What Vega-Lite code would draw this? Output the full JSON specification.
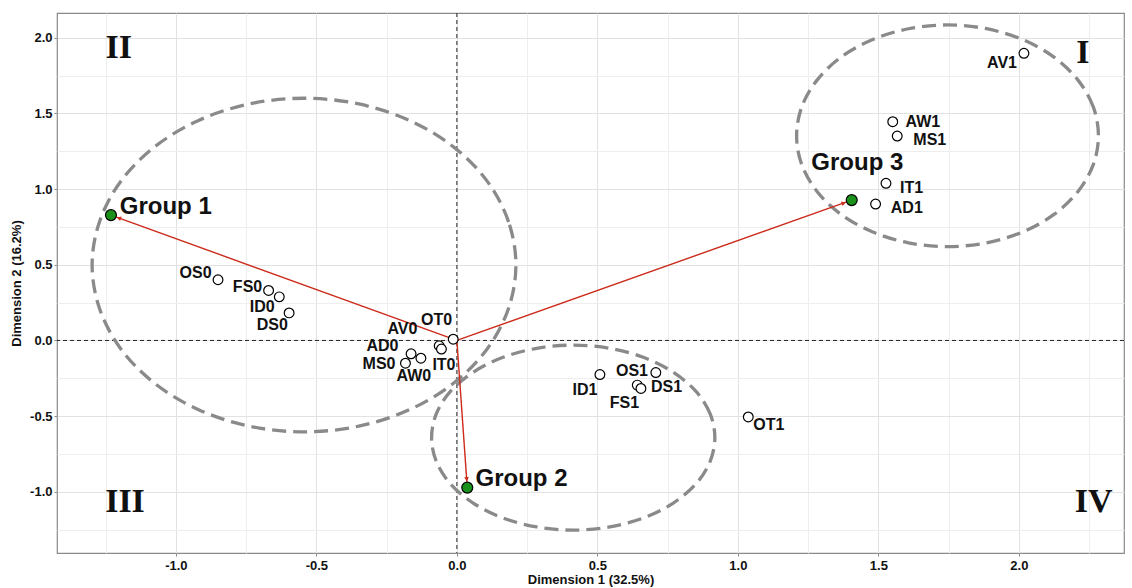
{
  "$schema": "https://vega.github.io/schema/vega-lite/v6.json",
  "width": 1067,
  "height": 540,
  "autosize": {"type": "none"},
  "padding": {"left": 57, "top": 13, "right": 8, "bottom": 35},
  "background": "white",
  "config": {
    "view": {"stroke": "#8a8a8a", "strokeWidth": 1.2},
    "text": {"font": "Liberation Sans", "fontWeight": "bold"}
  },
  "datasets": {
    "points": [
      {"name": "OS0", "x": -0.850, "y": 0.401},
      {"name": "FS0", "x": -0.670, "y": 0.330},
      {"name": "ID0", "x": -0.632, "y": 0.288},
      {"name": "DS0", "x": -0.597, "y": 0.182},
      {"name": "OT0", "x": -0.013, "y": 0.008},
      {"name": "AV0", "x": -0.063, "y": -0.035},
      {"name": "IT0", "x": -0.055, "y": -0.057},
      {"name": "AD0", "x": -0.163, "y": -0.088},
      {"name": "MS0", "x": -0.183, "y": -0.150},
      {"name": "AW0", "x": -0.128, "y": -0.117},
      {"name": "ID1", "x": 0.509, "y": -0.225},
      {"name": "OS1", "x": 0.708, "y": -0.212},
      {"name": "FS1", "x": 0.642, "y": -0.295},
      {"name": "DS1", "x": 0.655, "y": -0.317},
      {"name": "OT1", "x": 1.037, "y": -0.505},
      {"name": "AV1", "x": 2.018, "y": 1.897},
      {"name": "AW1", "x": 1.551, "y": 1.445},
      {"name": "MS1", "x": 1.567, "y": 1.350},
      {"name": "IT1", "x": 1.527, "y": 1.038},
      {"name": "AD1", "x": 1.490, "y": 0.901}
    ],
    "labels": [
      {"name": "OS0", "x": -0.930, "y": 0.443},
      {"name": "FS0", "x": -0.745, "y": 0.354},
      {"name": "ID0", "x": -0.693, "y": 0.222},
      {"name": "DS0", "x": -0.657, "y": 0.101},
      {"name": "OT0", "x": -0.072, "y": 0.134},
      {"name": "AV0", "x": -0.194, "y": 0.075},
      {"name": "AD0", "x": -0.265, "y": -0.035},
      {"name": "MS0", "x": -0.277, "y": -0.155},
      {"name": "AW0", "x": -0.153, "y": -0.232},
      {"name": "IT0", "x": -0.046, "y": -0.163},
      {"name": "ID1", "x": 0.456, "y": -0.324},
      {"name": "OS1", "x": 0.623, "y": -0.203},
      {"name": "DS1", "x": 0.746, "y": -0.306},
      {"name": "FS1", "x": 0.596, "y": -0.410},
      {"name": "OT1", "x": 1.110, "y": -0.560},
      {"name": "AV1", "x": 1.940, "y": 1.831},
      {"name": "AW1", "x": 1.658, "y": 1.445},
      {"name": "MS1", "x": 1.683, "y": 1.324},
      {"name": "IT1", "x": 1.618, "y": 1.005},
      {"name": "AD1", "x": 1.601, "y": 0.872}
    ],
    "groups": [
      {"name": "Group 1", "x": -1.231, "y": 0.828},
      {"name": "Group 2", "x": 0.037, "y": -0.972},
      {"name": "Group 3", "x": 1.405, "y": 0.927}
    ],
    "grouplabels": [
      {"name": "Group 1", "x": -1.036, "y": 0.883},
      {"name": "Group 2", "x": 0.230, "y": -0.912},
      {"name": "Group 3", "x": 1.425, "y": 1.170}
    ],
    "quadrants": [
      {"name": "II", "x": -1.203, "y": 1.930},
      {"name": "III", "x": -1.181, "y": -1.067},
      {"name": "I", "x": 2.228, "y": 1.897},
      {"name": "IV", "x": 2.266, "y": -1.067}
    ],
    "ellipses": [
      {"e": 1, "i": 0, "x": 0.210, "y": 0.498},
      {"e": 1, "i": 1, "x": 0.184, "y": 0.783},
      {"e": 1, "i": 2, "x": 0.109, "y": 1.049},
      {"e": 1, "i": 3, "x": -0.011, "y": 1.277},
      {"e": 1, "i": 4, "x": -0.167, "y": 1.452},
      {"e": 1, "i": 5, "x": -0.349, "y": 1.562},
      {"e": 1, "i": 6, "x": -0.544, "y": 1.600},
      {"e": 1, "i": 7, "x": -0.739, "y": 1.562},
      {"e": 1, "i": 8, "x": -0.921, "y": 1.452},
      {"e": 1, "i": 9, "x": -1.077, "y": 1.277},
      {"e": 1, "i": 10, "x": -1.197, "y": 1.049},
      {"e": 1, "i": 11, "x": -1.272, "y": 0.783},
      {"e": 1, "i": 12, "x": -1.298, "y": 0.498},
      {"e": 1, "i": 13, "x": -1.272, "y": 0.213},
      {"e": 1, "i": 14, "x": -1.197, "y": -0.053},
      {"e": 1, "i": 15, "x": -1.077, "y": -0.281},
      {"e": 1, "i": 16, "x": -0.921, "y": -0.456},
      {"e": 1, "i": 17, "x": -0.739, "y": -0.566},
      {"e": 1, "i": 18, "x": -0.544, "y": -0.604},
      {"e": 1, "i": 19, "x": -0.349, "y": -0.566},
      {"e": 1, "i": 20, "x": -0.167, "y": -0.456},
      {"e": 1, "i": 21, "x": -0.011, "y": -0.281},
      {"e": 1, "i": 22, "x": 0.109, "y": -0.053},
      {"e": 1, "i": 23, "x": 0.184, "y": 0.213},
      {"e": 2, "i": 0, "x": 0.918, "y": -0.642},
      {"e": 2, "i": 1, "x": 0.901, "y": -0.484},
      {"e": 2, "i": 2, "x": 0.851, "y": -0.337},
      {"e": 2, "i": 3, "x": 0.770, "y": -0.210},
      {"e": 2, "i": 4, "x": 0.666, "y": -0.113},
      {"e": 2, "i": 5, "x": 0.544, "y": -0.052},
      {"e": 2, "i": 6, "x": 0.414, "y": -0.031},
      {"e": 2, "i": 7, "x": 0.284, "y": -0.052},
      {"e": 2, "i": 8, "x": 0.162, "y": -0.113},
      {"e": 2, "i": 9, "x": 0.058, "y": -0.210},
      {"e": 2, "i": 10, "x": -0.023, "y": -0.337},
      {"e": 2, "i": 11, "x": -0.073, "y": -0.484},
      {"e": 2, "i": 12, "x": -0.090, "y": -0.642},
      {"e": 2, "i": 13, "x": -0.073, "y": -0.800},
      {"e": 2, "i": 14, "x": -0.023, "y": -0.947},
      {"e": 2, "i": 15, "x": 0.058, "y": -1.074},
      {"e": 2, "i": 16, "x": 0.162, "y": -1.171},
      {"e": 2, "i": 17, "x": 0.284, "y": -1.232},
      {"e": 2, "i": 18, "x": 0.414, "y": -1.253},
      {"e": 2, "i": 19, "x": 0.544, "y": -1.232},
      {"e": 2, "i": 20, "x": 0.666, "y": -1.171},
      {"e": 2, "i": 21, "x": 0.770, "y": -1.074},
      {"e": 2, "i": 22, "x": 0.851, "y": -0.947},
      {"e": 2, "i": 23, "x": 0.901, "y": -0.800},
      {"e": 3, "i": 0, "x": 2.283, "y": 1.352},
      {"e": 3, "i": 1, "x": 2.265, "y": 1.541},
      {"e": 3, "i": 2, "x": 2.211, "y": 1.718},
      {"e": 3, "i": 3, "x": 2.126, "y": 1.870},
      {"e": 3, "i": 4, "x": 2.015, "y": 1.986},
      {"e": 3, "i": 5, "x": 1.885, "y": 2.059},
      {"e": 3, "i": 6, "x": 1.746, "y": 2.084},
      {"e": 3, "i": 7, "x": 1.607, "y": 2.059},
      {"e": 3, "i": 8, "x": 1.478, "y": 1.986},
      {"e": 3, "i": 9, "x": 1.366, "y": 1.870},
      {"e": 3, "i": 10, "x": 1.281, "y": 1.718},
      {"e": 3, "i": 11, "x": 1.227, "y": 1.541},
      {"e": 3, "i": 12, "x": 1.209, "y": 1.352},
      {"e": 3, "i": 13, "x": 1.227, "y": 1.163},
      {"e": 3, "i": 14, "x": 1.281, "y": 0.986},
      {"e": 3, "i": 15, "x": 1.366, "y": 0.834},
      {"e": 3, "i": 16, "x": 1.478, "y": 0.718},
      {"e": 3, "i": 17, "x": 1.607, "y": 0.645},
      {"e": 3, "i": 18, "x": 1.746, "y": 0.620},
      {"e": 3, "i": 19, "x": 1.885, "y": 0.645},
      {"e": 3, "i": 20, "x": 2.015, "y": 0.718},
      {"e": 3, "i": 21, "x": 2.126, "y": 0.834},
      {"e": 3, "i": 22, "x": 2.211, "y": 0.986},
      {"e": 3, "i": 23, "x": 2.265, "y": 1.163}
    ],
    "zero": [{"v": 0}]
  },
  "layer": [
    {
      "data": {"name": "points"},
      "mark": {"type": "point", "opacity": 0},
      "encoding": {
        "x": {
          "field": "x", "type": "quantitative",
          "scale": {"domain": [-1.423, 2.374], "nice": false, "zero": false},
          "axis": {
            "title": "Dimension 1 (32.5%)",
            "values": [-1.25, -1, -0.75, -0.5, -0.25, 0, 0.25, 0.5, 0.75, 1, 1.25, 1.5, 1.75, 2, 2.25],
            "labelExpr": "abs(datum.value*2 - round(datum.value*2)) < 0.001 ? replace(format(datum.value, '.1f'), '\u2212', '-') : ''",
            "labelOverlap": false,
            "labelFlush": false,
            "grid": true,
            "gridColor": {"condition": {"test": "abs(datum.value*2 - round(datum.value*2)) < 0.001", "value": "#e2e2e2"}, "value": "#eeeeee"},
            "gridWidth": 1,
            "domain": false,
            "tickColor": "#888888",
            "tickSize": 3,
            "tickOpacity": {"condition": {"test": "abs(datum.value*2 - round(datum.value*2)) < 0.001", "value": 1}, "value": 0},
            "labelFont": "Liberation Sans", "labelFontWeight": "bold", "labelFontSize": 13, "labelColor": "#111111", "labelPadding": 3,
            "titleFont": "Liberation Sans", "titleFontWeight": "bold", "titleFontSize": 13, "titleColor": "#111111", "titlePadding": 1
          }
        },
        "y": {
          "field": "y", "type": "quantitative",
          "scale": {"domain": [-1.404, 2.163], "nice": false, "zero": false},
          "axis": {
            "title": "Dimension 2 (16.2%)",
            "values": [-1.25, -1, -0.75, -0.5, -0.25, 0, 0.25, 0.5, 0.75, 1, 1.25, 1.5, 1.75, 2],
            "labelExpr": "abs(datum.value*2 - round(datum.value*2)) < 0.001 ? replace(format(datum.value, '.1f'), '\u2212', '-') : ''",
            "labelOverlap": false,
            "labelFlush": false,
            "grid": true,
            "gridColor": {"condition": {"test": "abs(datum.value*2 - round(datum.value*2)) < 0.001", "value": "#e2e2e2"}, "value": "#eeeeee"},
            "gridWidth": 1,
            "domain": false,
            "tickColor": "#888888",
            "tickSize": 3,
            "tickOpacity": {"condition": {"test": "abs(datum.value*2 - round(datum.value*2)) < 0.001", "value": 1}, "value": 0},
            "labelFont": "Liberation Sans", "labelFontWeight": "bold", "labelFontSize": 13, "labelColor": "#111111", "labelPadding": 2,
            "titleFont": "Liberation Sans", "titleFontWeight": "bold", "titleFontSize": 13, "titleColor": "#111111", "titlePadding": 6
          }
        }
      }
    },
    {
      "data": {"name": "zero"},
      "mark": {"type": "rule", "color": "#222222", "strokeWidth": 1, "strokeDash": [4, 3]},
      "encoding": {
        "x": {"field": "v", "type": "quantitative", "scale": {"domain": [-1.423, 2.374], "nice": false, "zero": false}}
      }
    },
    {
      "data": {"name": "zero"},
      "mark": {"type": "rule", "color": "#222222", "strokeWidth": 1, "strokeDash": [4, 3]},
      "encoding": {
        "y": {"field": "v", "type": "quantitative", "scale": {"domain": [-1.404, 2.163], "nice": false, "zero": false}}
      }
    },
    {
      "data": {"name": "ellipses"},
      "mark": {"type": "line", "interpolate": "cardinal-closed", "color": "#8a8a8a", "strokeWidth": 3.3, "strokeDash": [14, 7]},
      "encoding": {
        "x": {"field": "x", "type": "quantitative", "scale": {"domain": [-1.423, 2.374], "nice": false, "zero": false}},
        "y": {"field": "y", "type": "quantitative", "scale": {"domain": [-1.404, 2.163], "nice": false, "zero": false}},
        "detail": {"field": "e", "type": "nominal"},
        "order": {"field": "i", "type": "quantitative"}
      }
    },
    {
      "data": {"name": "groups"},
      "mark": {"type": "rule", "color": "#cc2a1a", "strokeWidth": 1.4},
      "encoding": {
        "x": {"field": "x", "type": "quantitative", "scale": {"domain": [-1.423, 2.374], "nice": false, "zero": false}},
        "y": {"field": "y", "type": "quantitative", "scale": {"domain": [-1.404, 2.163], "nice": false, "zero": false}},
        "x2": {"datum": 0},
        "y2": {"datum": 0}
      }
    },
    {
      "data": {"name": "groups"},
      "transform": [{"filter": "datum.name === 'Group 1'"}],
      "mark": {"type": "point", "shape": "triangle-up", "angle": 290, "filled": true, "color": "#cc2a1a", "size": 22, "opacity": 1, "xOffset": 8, "yOffset": 3},
      "encoding": {
        "x": {"field": "x", "type": "quantitative", "scale": {"domain": [-1.423, 2.374], "nice": false, "zero": false}},
        "y": {"field": "y", "type": "quantitative", "scale": {"domain": [-1.404, 2.163], "nice": false, "zero": false}}
      }
    },
    {
      "data": {"name": "groups"},
      "transform": [{"filter": "datum.name === 'Group 2'"}],
      "mark": {"type": "point", "shape": "triangle-up", "angle": 176, "filled": true, "color": "#cc2a1a", "size": 22, "opacity": 1, "xOffset": -0.6, "yOffset": -8.5},
      "encoding": {
        "x": {"field": "x", "type": "quantitative", "scale": {"domain": [-1.423, 2.374], "nice": false, "zero": false}},
        "y": {"field": "y", "type": "quantitative", "scale": {"domain": [-1.404, 2.163], "nice": false, "zero": false}}
      }
    },
    {
      "data": {"name": "groups"},
      "transform": [{"filter": "datum.name === 'Group 3'"}],
      "mark": {"type": "point", "shape": "triangle-up", "angle": 70, "filled": true, "color": "#cc2a1a", "size": 22, "opacity": 1, "xOffset": -8, "yOffset": 3},
      "encoding": {
        "x": {"field": "x", "type": "quantitative", "scale": {"domain": [-1.423, 2.374], "nice": false, "zero": false}},
        "y": {"field": "y", "type": "quantitative", "scale": {"domain": [-1.404, 2.163], "nice": false, "zero": false}}
      }
    },
    {
      "data": {"name": "points"},
      "mark": {"type": "point", "shape": "circle", "filled": true, "fill": "white", "stroke": "black", "strokeWidth": 1.2, "size": 95, "opacity": 1},
      "encoding": {
        "x": {"field": "x", "type": "quantitative", "scale": {"domain": [-1.423, 2.374], "nice": false, "zero": false}},
        "y": {"field": "y", "type": "quantitative", "scale": {"domain": [-1.404, 2.163], "nice": false, "zero": false}}
      }
    },
    {
      "data": {"name": "groups"},
      "mark": {"type": "point", "shape": "circle", "filled": true, "fill": "#1a911a", "stroke": "black", "strokeWidth": 1.2, "size": 120, "opacity": 1},
      "encoding": {
        "x": {"field": "x", "type": "quantitative", "scale": {"domain": [-1.423, 2.374], "nice": false, "zero": false}},
        "y": {"field": "y", "type": "quantitative", "scale": {"domain": [-1.404, 2.163], "nice": false, "zero": false}}
      }
    },
    {
      "data": {"name": "labels"},
      "mark": {"type": "text", "font": "Liberation Sans", "fontWeight": "bold", "fontSize": 16, "color": "#111111", "align": "center", "baseline": "middle"},
      "encoding": {
        "x": {"field": "x", "type": "quantitative", "scale": {"domain": [-1.423, 2.374], "nice": false, "zero": false}},
        "y": {"field": "y", "type": "quantitative", "scale": {"domain": [-1.404, 2.163], "nice": false, "zero": false}},
        "text": {"field": "name"}
      }
    },
    {
      "data": {"name": "grouplabels"},
      "mark": {"type": "text", "font": "Liberation Sans", "fontWeight": "bold", "fontSize": 24, "color": "#111111", "align": "center", "baseline": "middle"},
      "encoding": {
        "x": {"field": "x", "type": "quantitative", "scale": {"domain": [-1.423, 2.374], "nice": false, "zero": false}},
        "y": {"field": "y", "type": "quantitative", "scale": {"domain": [-1.404, 2.163], "nice": false, "zero": false}},
        "text": {"field": "name"}
      }
    },
    {
      "data": {"name": "quadrants"},
      "mark": {"type": "text", "font": "Liberation Serif", "fontWeight": "bold", "fontSize": 34, "color": "#111111", "align": "center", "baseline": "middle"},
      "encoding": {
        "x": {"field": "x", "type": "quantitative", "scale": {"domain": [-1.423, 2.374], "nice": false, "zero": false}},
        "y": {"field": "y", "type": "quantitative", "scale": {"domain": [-1.404, 2.163], "nice": false, "zero": false}},
        "text": {"field": "name"}
      }
    }
  ]
}
